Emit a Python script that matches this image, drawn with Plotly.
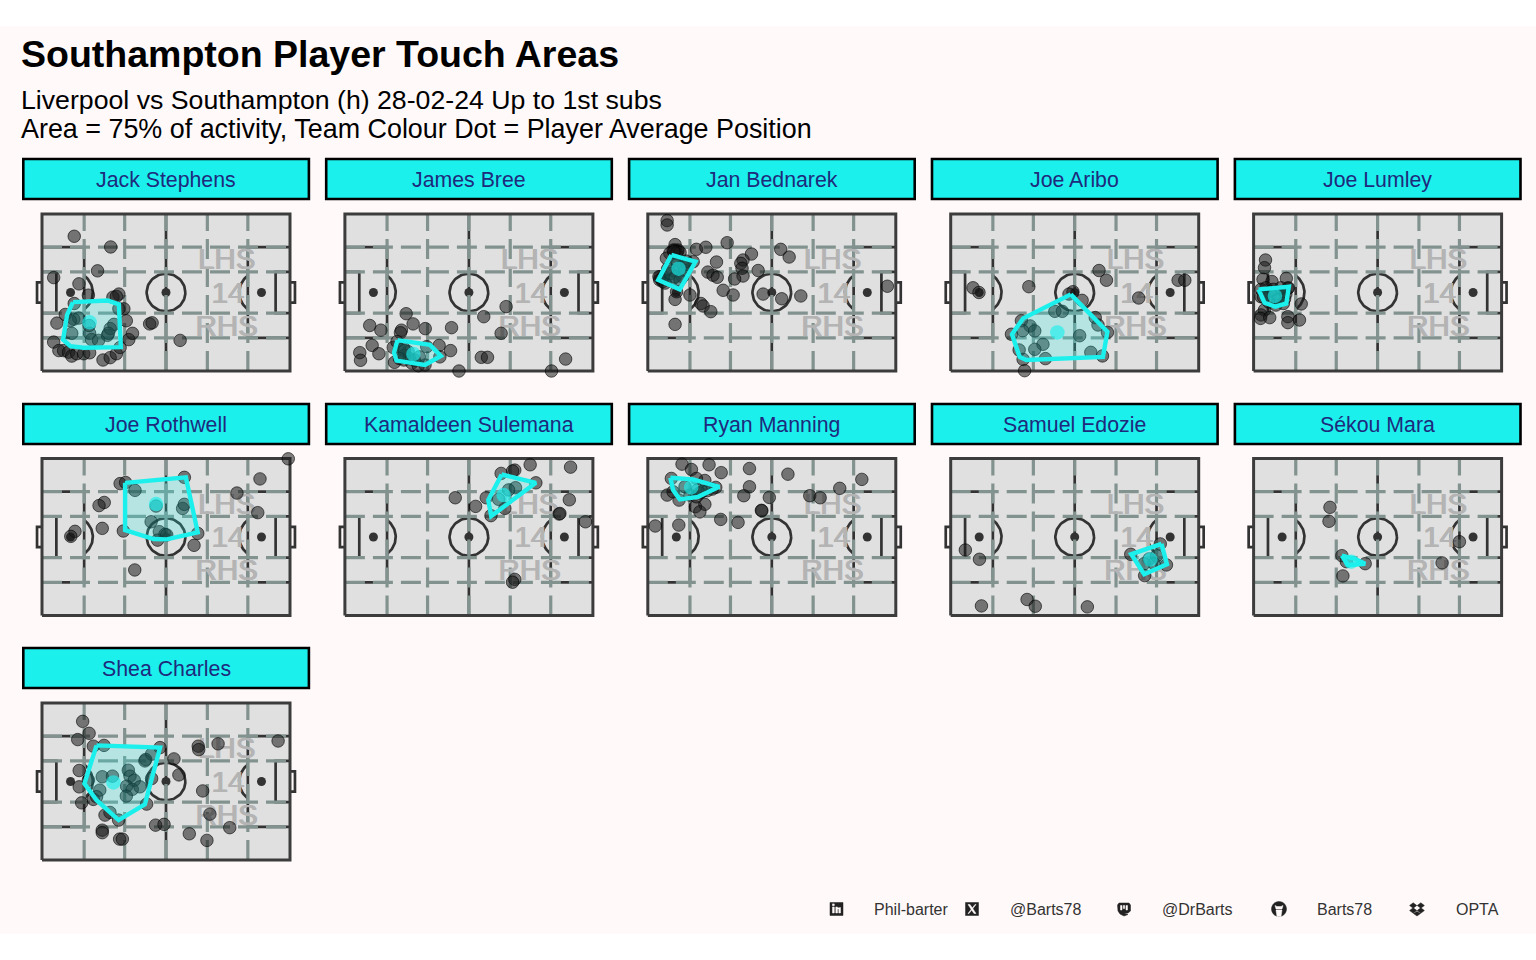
import numpy as np
import plotly.graph_objs as go

W = 1536
H = 960
BG = "#FFF9F9"
TEAM = "#1CF0EC"
FONT = "Liberation Sans"
COL_STEP = 302.9

players = ["Jack Stephens", "James Bree", "Jan Bednarek", "Joe Aribo", "Joe Lumley",
           "Joe Rothwell", "Kamaldeen Sulemana", "Ryan Manning", "Samuel Edozie", "Sékou Mara",
           "Shea Charles"]

# touches (Opta 0-100 pitch units)
stephens_x = [13, 27.7, 22.4, 4.7, 14.9, 18.7, 31, 28.6, 30, 33, 13, 34, 43.4, 44.4, 6, 9.4, 12.8, 14.8, 11.4, 12, 4.7, 6.8, 8.7, 10.7, 12, 14, 16.8, 19.2, 24.6, 27.5, 30, 31.5, 35, 36.5, 55.7, 19.2, 20, 22.8, 26.4, 27.5, 29, 31, 26.8, 19]
stephens_y = [85.8, 79, 63.8, 59.5, 55.5, 48.3, 49, 47, 47.5, 39.6, 43, 32, 30, 30.7, 30.5, 36, 33, 33.7, 32, 24, 18.4, 13, 13, 12, 9.5, 11, 11, 11.6, 7, 8.5, 11, 15, 20, 24, 19.5, 24, 20, 19.5, 22.7, 27, 29.7, 39.6, 24, 29]
bree_x = [24.7, 27.5, 32.4, 43, 56, 65, 63, 10, 14.5, 22.8, 22.4, 11, 13.7, 6, 6.3, 19.5, 21, 38, 42.6, 38.3, 55, 57.5, 46, 83.3, 89, 20, 23.8, 27, 29.6, 32.3, 33, 23.8, 25.5, 22, 24, 26, 28, 30, 24, 22]
bree_y = [36.5, 30, 27, 27.6, 34.6, 41, 24, 29, 26, 26, 24.4, 16.3, 11, 11.7, 6.8, 15, 18.7, 16.3, 13, 9, 8.7, 8.7, 0, 0, 7.6, 5.5, 7, 5, 3.4, 3.8, 15.5, 14.4, 12.3, 14, 10, 8, 7, 9, 13, 8]
bednarek_x = [7.8, 7.8, 11, 19.6, 23.4, 32, 41.8, 38.4, 37.5, 38, 38.4, 35, 44.5, 53.6, 57, 27.7, 24.2, 26.3, 28, 30.4, 34.4, 46.5, 54, 61.7, 96.6, 17, 11, 11.6, 21.4, 22.3, 25.4, 11, 10.2, 12.2, 8.9, 7.5, 18.3, 6.2, 4.8, 10.2, 14.2, 11.6, 11, 12, 11.5, 13, 10.5, 5, 5.5, 6, 7, 4.5, 12, 13, 10, 9, 14, 15, 16, 11, 13, 8, 15.5]
bednarek_y = [95.8, 93, 80.5, 77.5, 78.8, 81.7, 74.5, 70.7, 68.6, 65.4, 60.5, 58.6, 64, 77.5, 72.6, 69.4, 63, 61, 59.7, 51.4, 48.4, 49, 46, 47.8, 54, 48.4, 45.6, 50.5, 43, 41.4, 37.8, 29.7, 77, 77, 75, 71.8, 69.6, 60, 58, 59, 67.5, 70.7, 77, 76, 75, 75.5, 76, 60, 58.5, 57, 56, 60, 68, 66, 64, 62, 60, 64, 68, 60, 58, 65, 70]
aribo_x = [59.8, 62.8, 75.8, 91.7, 94.4, 9, 11.4, 31.5, 49.3, 47.7, 53, 42, 45, 28.5, 32, 33.9, 29, 24.5, 37.2, 33.9, 27.6, 29.2, 38.2, 29.8, 52, 56.5, 61.2, 58.3, 59.4, 63.2]
aribo_y = [64, 57.8, 46.5, 57.8, 57.8, 53, 50, 53.7, 50.5, 49, 45, 38, 38, 32, 28.7, 25.5, 25.7, 23.4, 17, 13.8, 13.4, 7.4, 7.9, 0.2, 22.5, 11.9, 9.6, 34, 29.3, 24.6]
lumley_x = [4.8, 4.4, 3.8, 7.4, 13.2, 13.8, 3, 4.4, 3, 2.8, 6.5, 13.8, 13.8, 18.5, 19.2, 9.8, 12.5, 6.5, 3, 5, 7, 10, 13, 14, 12, 9, 6, 4, 8, 11]
lumley_y = [70.7, 65.8, 58.4, 57, 59, 52.6, 47.3, 38.9, 35.7, 33.5, 34, 34.6, 30.8, 32.5, 42.7, 45, 46, 50.5, 52, 53, 49, 46, 49, 53, 43, 42, 44, 47, 52, 53]
rothwell_x = [99.3, 87.9, 78.6, 87, 25.1, 23, 24.3, 13.3, 11.6, 32.8, 31.5, 33.7, 37.5, 46, 57.4, 56.7, 57.4, 44, 47.3, 49.6, 46.6, 50.3, 61.3, 62.8, 37.4]
rothwell_y = [99.8, 87, 78, 65.5, 72, 70, 55.5, 53.6, 50.4, 53.8, 84, 84.7, 79.7, 69.7, 88, 68.2, 70.8, 59.7, 53.4, 51.7, 48, 51.3, 44.7, 52.3, 29]
sulemana_x = [74.7, 91, 68.5, 67.6, 63, 77, 68.8, 57, 44.5, 52.7, 64.5, 58.9, 90.5, 86.4, 86.7, 97, 68.5, 67.6, 66, 62]
sulemana_y = [96, 94.5, 92.6, 92, 90.5, 84.5, 81.4, 75, 75, 69.5, 68.2, 63.6, 73.7, 64.6, 65, 59.7, 23, 21.2, 80, 74]
manning_x = [13.8, 17.6, 24.7, 29.6, 41, 56.5, 86.3, 77.4, 65.3, 69.5, 49, 41, 38.7, 45.8, 46, 23, 19.2, 21, 29.4, 36.4, 12.5, 3, 7.8, 9.5, 12.6, 27.4, 23, 19.6, 10.2, 17, 19.6, 20, 22, 24, 26, 21, 15]
manning_y = [96.4, 93, 96, 91, 93.6, 90, 86.7, 81, 76.3, 75, 75.2, 82, 76.3, 67, 66.7, 70.8, 69.3, 66, 61.2, 59.3, 57.6, 57, 76.7, 87.3, 73.5, 81.6, 86, 87.3, 78.8, 76.7, 75.6, 80, 79, 79.5, 80.5, 78, 82]
edozie_x = [5.9, 11.6, 12.4, 30.8, 34.1, 55.1, 84.5, 72.6, 87, 78.2, 80, 78, 83, 82]
edozie_y = [41.7, 35.8, 6.1, 10.2, 5.9, 5.5, 45.6, 39, 32.2, 25.4, 36, 33, 38, 33]
mara_x = [30.8, 30.4, 83, 76, 36, 35.6, 37.4, 45]
mara_y = [68.9, 60, 47, 33.5, 25.2, 38.1, 34.3, 33]
charles_x = [16.4, 19, 14.4, 20.7, 25, 47.6, 44.2, 41.8, 41.5, 53.2, 55.2, 63, 63.2, 71, 95.2, 64.8, 67.7, 75.7, 59.4, 66.5, 45.8, 49.2, 24.3, 24.3, 31.3, 32.4, 16, 15, 15, 18.7, 24.3, 28.4, 34.8, 35.5, 37.2, 34.1, 36.4, 39.5, 23.3, 22, 20.7, 34, 44.2, 42.2, 27.4, 25.4, 30.9]
charles_y = [88.3, 80.7, 76.7, 72.5, 73, 71.6, 67.4, 64, 63.1, 64.4, 54.2, 72.5, 70.3, 74, 75.8, 44, 29.2, 20.6, 16.7, 12.5, 22.2, 22.7, 19, 17.4, 13.3, 13.3, 36.4, 57, 46.6, 50.8, 53, 53.4, 57.2, 53.4, 50.8, 47, 45, 46.6, 44.5, 40.3, 38.6, 40.7, 51.9, 35.6, 30.3, 28.6, 25.4]

touch_x = [stephens_x, bree_x, bednarek_x, aribo_x, lumley_x, rothwell_x, sulemana_x, manning_x, edozie_x, mara_x, charles_x]
touch_y = [stephens_y, bree_y, bednarek_y, aribo_y, lumley_y, rothwell_y, sulemana_y, manning_y, edozie_y, mara_y, charles_y]

# 75% activity hulls
hull_x = [[12.5, 26.5, 31, 31.8, 16.8, 11.4, 8.5, 10.1],
          [21.2, 34.3, 38.7, 32.3, 20.8, 19.8],
          [9.5, 19.2, 12.9, 4.2],
          [48.4, 63.2, 61.4, 30.5, 27.8, 24.7, 29.2],
          [2, 14.2, 13.2, 8.7, 4.4],
          [33.5, 58, 62.8, 50.3, 45, 33.5],
          [63.2, 77, 59, 57.8],
          [9.1, 18.3, 28.8, 20.3, 12.9, 10.2],
          [85, 87.2, 78, 72.8],
          [35.6, 41, 45, 38],
          [22, 47.6, 41.5, 30.9, 22, 17.1]]
hull_y = [[43.9, 44.9, 42.4, 15.2, 14.8, 15.8, 20, 35.8],
          [19.7, 16.6, 9.6, 3.8, 6.6, 11.7],
          [73.9, 69.6, 52, 58],
          [48.8, 25, 9, 7, 9, 23.4, 33.5],
          [52, 53.7, 43, 41, 43.5],
          [84.5, 88, 53, 48.5, 48.7, 54.4],
          [89.8, 84.5, 63.3, 73.5],
          [87.7, 86.7, 82, 75.6, 74, 79.9],
          [45.6, 32.6, 26.3, 39],
          [38.1, 36, 33, 32],
          [73, 71.6, 35.4, 25.4, 38.1, 48.7]]

avg_x = [19.2, 27.6, 12.4, 43, 8.6, 46, 64, 17.5, 80.5, 39.4, 28.8]
avg_y = [31, 10.8, 65.2, 24.6, 47.8, 71, 76.7, 81.6, 35.6, 34.3, 49.4]

grid_v = [17, 33.33, 50, 66.67, 83]
grid_h = [21.1, 36.8, 63.2, 78.9]
side_labels = ["LHS", "14", "RHS"]
side_label_x = [74.5, 75, 74.5]
side_label_y = [69.4, 48.2, 27]

footer_text = ["Phil-barter", "@Barts78", "@DrBarts", "Barts78", "OPTA"]
footer_left = [874, 1010, 1162, 1317, 1456]


def fx(px):
    return px / W


def fy(py):
    return 1 - py / H


def pitch_lines():
    # dark markings, None breaks the line between pieces
    xs, ys = [], []

    def add(a, b):
        xs.extend(list(a) + [None])
        ys.extend(list(b) + [None])

    add([50, 50], [0, 100])
    for flip in [False, True]:
        fl = (lambda v: 100 - v) if flip else (lambda v: v)
        add([fl(v) for v in [0, 17, 17, 0]], [21.1, 21.1, 78.9, 78.9])
        add([fl(v) for v in [0, 5.8, 5.8, 0]], [36.8, 36.8, 63.2, 63.2])
        add([fl(v) for v in [0, -2, -2, 0]], [43.5, 43.5, 56.5, 56.5])
        t = np.linspace(-0.9, 0.9, 40)
        add([fl(11.5 + 9 * np.cos(a)) for a in t], [50 + 13.6 * np.sin(a) for a in t])
    t = np.linspace(0, 2 * np.pi, 80)
    add(50 + 7.8 * np.cos(t), 50 + 12 * np.sin(t))
    return xs, ys


fig = go.Figure()
shapes = []
annotations = []

# page background sits between the white bands
shapes.append(dict(type="rect", xref="paper", yref="paper", x0=0, x1=1, y0=fy(934), y1=fy(26),
                   fillcolor=BG, line_width=0, layer="below"))

line_x, line_y = pitch_lines()

for i, name in enumerate(players):
    col = i % 5
    row = i // 5
    left = 42 + COL_STEP * col
    top = [214, 458.5, 703][row]
    right = left + 248
    bottom = top + 157
    n = i + 1
    xa = "x" if i == 0 else "x%d" % n
    ya = "y" if i == 0 else "y%d" % n

    # axes run -5..105 so the goals and edge dots are not clipped
    pad_x = 248 * 0.05
    pad_y = 157 * 0.05
    fig.layout["xaxis%d" % n] = dict(domain=[fx(left - pad_x), fx(right + pad_x)], range=[-5, 105], visible=False,
                                     fixedrange=True, anchor=ya)
    fig.layout["yaxis%d" % n] = dict(domain=[fy(bottom + pad_y), fy(top - pad_y)], range=[-5, 105], visible=False,
                                     fixedrange=True, anchor=xa)

    shapes.append(dict(type="rect", xref=xa, yref=ya, x0=0, x1=100, y0=0, y1=100, fillcolor="#E0E0E0",
                       line_width=0, layer="below"))

    fig.add_trace(go.Scatter(x=line_x, y=line_y, xaxis=xa, yaxis=ya, mode="lines",
                             line=dict(color="#333333", width=2.7), hoverinfo="skip"))
    fig.add_trace(go.Scatter(x=[11.5, 50, 88.5], y=[50, 50, 50], xaxis=xa, yaxis=ya, mode="markers",
                             marker=dict(color="#333333", size=9), hoverinfo="skip"))
    for v in grid_v:
        fig.add_trace(go.Scatter(x=[v, v], y=[0, 100], xaxis=xa, yaxis=ya, mode="lines",
                                 line=dict(color="#82938F", width=3.2, dash="20px,8px"), hoverinfo="skip"))
    for h in grid_h:
        fig.add_trace(go.Scatter(x=[0, 100], y=[h, h], xaxis=xa, yaxis=ya, mode="lines",
                                 line=dict(color="#82938F", width=3.2, dash="20px,8px"), hoverinfo="skip"))
    fig.add_trace(go.Scatter(x=[0, 100, 100, 0, 0], y=[0, 0, 100, 100, 0], xaxis=xa, yaxis=ya, mode="lines",
                             line=dict(color="#3C3C3C", width=3), hoverinfo="skip"))
    # watermark looks overdrawn in the original, so thicken it a little
    fig.add_trace(go.Scatter(x=side_label_x, y=side_label_y, xaxis=xa, yaxis=ya, mode="text", text=side_labels,
                             textposition="middle center",
                             textfont=dict(family=FONT, size=29.5, color="#B4B4B4",
                                           shadow="0.6px 0 0 #B4B4B4, -0.6px 0 0 #B4B4B4"),
                             hoverinfo="skip"))

    fig.add_trace(go.Scatter(x=touch_x[i], y=touch_y[i], xaxis=xa, yaxis=ya, mode="markers",
                             marker=dict(color="rgba(25,25,25,0.55)", size=12.5,
                                         line=dict(color="rgba(0,0,0,0.6)", width=1)), name=name))
    fig.add_trace(go.Scatter(x=hull_x[i] + hull_x[i][:1], y=hull_y[i] + hull_y[i][:1], xaxis=xa, yaxis=ya,
                             mode="lines", fill="toself", fillcolor="rgba(28,240,236,0.22)",
                             line=dict(color=TEAM, width=4.4), hoverinfo="skip"))
    fig.add_trace(go.Scatter(x=[avg_x[i]], y=[avg_y[i]], xaxis=xa, yaxis=ya, mode="markers",
                             marker=dict(color="rgba(28,240,236,0.65)", size=14.5), name=name + " avg"))

    # facet strip
    strip_top = [158, 403, 647][row]
    strip_left = 23.3 + COL_STEP * col
    shapes.append(dict(type="rect", xref="paper", yref="paper", x0=fx(strip_left), x1=fx(strip_left + 285.6),
                       y0=fy(strip_top + 41), y1=fy(strip_top + 1), fillcolor=TEAM,
                       line=dict(color="#000000", width=2.6), layer="above"))
    annotations.append(dict(x=fx(strip_left + 142.8), y=fy(strip_top + 22), xref="paper", yref="paper", text=name,
                            showarrow=False, xanchor="center", yanchor="middle",
                            font=dict(family=FONT, size=21.3, color="#1E2A7C")))


def add_text(x, y, text, size, color="#000000", bold=False):
    label = "<b>%s</b>" % text if bold else text
    annotations.append(dict(x=fx(x - 2.4), y=fy(y), xref="paper", yref="paper", text=label, showarrow=False,
                            xanchor="left", yanchor="middle", font=dict(family=FONT, size=size, color=color)))


add_text(21.5, 54.5, "Southampton Player Touch Areas", 37.5, bold=True)
add_text(21.5, 100, "Liverpool vs Southampton (h) 28-02-24 Up to 1st subs", 26.7)
add_text(21.5, 129, "Area = 75% of activity, Team Colour Dot = Player Average Position", 26.9)

for left, text in zip(footer_left, footer_text):
    add_text(left, 909.5, text, 16, color="#333333")


def icon_path(points):
    # points in pixels -> closed path in paper units
    parts = []
    for k, (px, py) in enumerate(points):
        parts.append("%s%.5f,%.5f" % ("M" if k == 0 else "L", fx(px), fy(py)))
    return "".join(parts) + "Z"


def add_icon(points, color="#222222"):
    shapes.append(dict(type="path", xref="paper", yref="paper", path=icon_path(points), fillcolor=color,
                       line=dict(color=color, width=0.5), layer="above"))


def square(cx, cy, r):
    return [(cx - r, cy - r), (cx + r, cy - r), (cx + r, cy + r), (cx - r, cy + r)]


# footer icons
ICON_Y = 909
# linkedin
add_icon(square(836.5, ICON_Y, 6.5))
add_icon([(832.5, 907), (834.3, 907), (834.3, 913), (832.5, 913)], "#FFF9F9")
add_icon(square(833.4, 904.8, 0.9), "#FFF9F9")
add_icon([(835.8, 907), (837.5, 907), (837.5, 908), (840.5, 907.5), (840.5, 913), (838.8, 913), (838.8, 909), (837.5, 909), (837.5, 913), (835.8, 913)], "#FFF9F9")
# x
add_icon(square(972, ICON_Y, 6.5))
add_icon([(968, 904.5), (970, 904.5), (976, 913.5), (974, 913.5)], "#FFF9F9")
add_icon([(975, 904.5), (976, 904.5), (969, 913.5), (968, 913.5)], "#FFF9F9")
# mastodon
add_icon([(1119, 903), (1129, 903), (1130.5, 905), (1130.5, 911), (1128, 913), (1124, 913.5), (1128, 914.5), (1124, 916), (1120, 914), (1118, 911), (1117.5, 905)])
add_icon([(1120.5, 905.5), (1122, 905.5), (1122, 910), (1120.5, 910)], "#FFF9F9")
add_icon([(1123.3, 905.5), (1124.7, 905.5), (1124.7, 908.5), (1123.3, 908.5)], "#FFF9F9")
add_icon([(1126, 905.5), (1127.5, 905.5), (1127.5, 910), (1126, 910)], "#FFF9F9")
# github
t_icon = np.linspace(0, 2 * np.pi, 24)
add_icon([(1279 + 7.5 * np.cos(a), ICON_Y + 7.5 * np.sin(a)) for a in t_icon])
add_icon([(1276, 909), (1282, 909), (1283, 905.5), (1281, 906.5), (1277, 906.5), (1275, 905.5)], "#FFF9F9")
add_icon([(1276, 910), (1282, 910), (1281, 916.5), (1277, 916.5)], "#FFF9F9")
# dropbox
for cx, cy in [(1413.2, 905.5), (1420.8, 905.5), (1413.2, 910.5), (1420.8, 910.5)]:
    add_icon([(cx - 3.6, cy), (cx, cy - 2.7), (cx + 3.6, cy), (cx, cy + 2.7)])
add_icon([(1413.5, 913.5), (1417, 911.5), (1420.5, 913.5), (1417, 916)])

fig.update_layout(
    width=W,
    height=H,
    autosize=False,
    margin=dict(l=0, r=0, t=0, b=0, pad=0),
    paper_bgcolor="#FFFFFF",
    plot_bgcolor="rgba(0,0,0,0)",
    showlegend=False,
    shapes=shapes,
    annotations=annotations,
    font=dict(family=FONT),
)

fig.write_html("out.html", config={"displayModeBar": False},
               post_script="document.body.style.margin='0';document.body.style.overflow='hidden';")
